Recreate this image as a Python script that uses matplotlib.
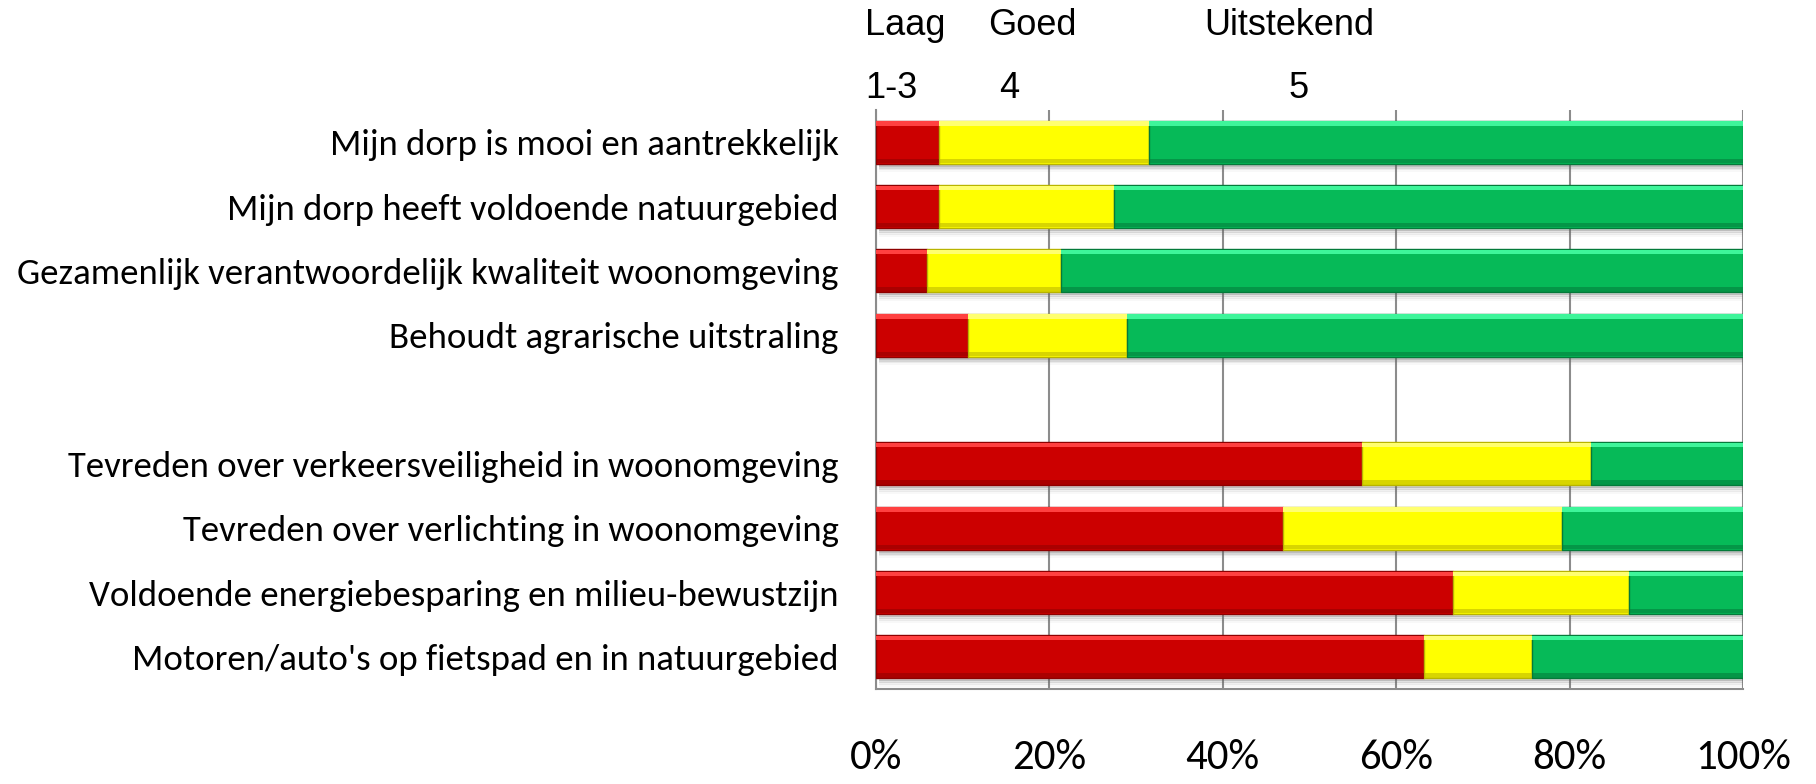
import numpy as np
import matplotlib
matplotlib.use("Agg")
import matplotlib.pyplot as plt
from matplotlib import font_manager as fm
from matplotlib.ticker import FixedLocator

# ---------------- data ----------------
categories = [
    "Mijn dorp is mooi en aantrekkelijk",
    "Mijn dorp heeft voldoende natuurgebied",
    "Gezamenlijk verantwoordelijk kwaliteit woonomgeving",
    "Behoudt agrarische uitstraling",
    "",
    "Tevreden over verkeersveiligheid in woonomgeving",
    "Tevreden over verlichting in woonomgeving",
    "Voldoende energiebesparing en milieu-bewustzijn",
    "Motoren/auto's op fietspad en in natuurgebied",
]
laag = [7.3, 7.3, 5.9, 10.6, np.nan, 56.1, 46.9, 66.5, 63.2]          # 1-3
goed = [24.2, 20.1, 15.4, 18.4, np.nan, 26.4, 32.2, 20.4, 12.5]        # 4
uitstekend = [68.5, 72.6, 78.7, 71.0, np.nan, 17.5, 20.9, 13.1, 24.3]  # 5
xticks = [0, 20, 40, 60, 80, 100]
xticklabels = ["0%", "20%", "40%", "60%", "80%", "100%"]
header_top = ["Laag", "Goed", "Uitstekend"]
header_bottom = ["1-3", "4", "5"]

# ---------------- fonts ----------------
def pick(names):
    for n in names:
        try:
            fm.findfont(fm.FontProperties(family=n), fallback_to_default=False)
            return n
        except Exception:
            pass
    return "DejaVu Sans"

calibri = pick(["Carlito", "Lato", "Open Sans"])
arial = pick(["Liberation Sans", "Arial", "DejaVu Sans"])

W, H = 1816, 784
fig = plt.figure(figsize=(W / 100, H / 100), dpi=100)
fig.patch.set_facecolor("white")

ax_l, ax_r, ax_t, ax_b = 876, 1743, 110, 689
ax = fig.add_axes([ax_l / W, 1 - ax_b / H, (ax_r - ax_l) / W, (ax_b - ax_t) / H])

# fit font sizes to reference text widths
renderer = fig.canvas.get_renderer()
def fit_size(text, family, target_px, base=20):
    t = fig.text(0, 0, text, family=family, fontsize=base)
    w = t.get_window_extent(renderer).width
    t.remove()
    return base * target_px / w

lab_fs = fit_size(categories[0], calibri, 510)
tick_fs = fit_size("100%", calibri, 96)
head_fs = fit_size("Uitstekend", arial, 170)

y = np.arange(len(categories))
laag_a = np.array(laag, dtype=float)
goed_a = np.array(goed, dtype=float)
uit_a = np.array(uitstekend, dtype=float)

h = 0.67
series = [
    (laag_a, np.zeros_like(laag_a), "#CC0000", "#FF4040", "#8E0000"),
    (goed_a, laag_a, "#FFFF00", "#FFFF70", "#B8B400"),
    (uit_a, laag_a + goed_a, "#06BA58", "#3EF59A", "#047A3A"),
]

total = laag_a + goed_a + uit_a
# soft drop shadow
for off, alpha in [(0.02, 0.28), (0.05, 0.18), (0.08, 0.09), (0.11, 0.04)]:
    ax.barh(y + h / 2 + off, total, height=0.05, left=0.3, color="#606060",
            alpha=alpha, linewidth=0, zorder=2)

for vals, left, c, light, dark in series:
    ax.barh(y, vals, left=left, height=h, color=c, edgecolor=dark,
            linewidth=1.0, zorder=3)
    # bevel highlight (top) and shade (bottom)
    t = 0.07
    ax.barh(y - h / 2 + t / 2 + 0.01, vals, left=left, height=t, color=light,
            linewidth=0, zorder=4)
    ax.barh(y + h / 2 - t / 2 - 0.01, vals, left=left, height=t, color=dark,
            alpha=0.55, linewidth=0, zorder=4)

ax.set_xlim(0, 100)
ax.set_ylim(len(categories) - 0.5, -0.5)

ax.xaxis.set_major_locator(FixedLocator(xticks))
ax.set_xticklabels(xticklabels, family=calibri, fontsize=tick_fs)
ax.set_yticks(y)
ax.set_yticklabels(categories, family=calibri, fontsize=lab_fs)
ax.tick_params(axis="x", length=0, pad=36)
ax.tick_params(axis="y", length=0, pad=27)

ax.grid(axis="x", color="#8C8C8C", linewidth=1.5, zorder=1)
ax.set_axisbelow(True)
for s in ["top", "right"]:
    ax.spines[s].set_visible(False)
for s in ["left", "bottom"]:
    ax.spines[s].set_color("#8C8C8C")
    ax.spines[s].set_linewidth(1.5)

# header annotations
for txt, xp in zip(header_top, [865, 988, 1204]):
    fig.text(xp / W, 1 - 35 / H, txt, family=arial, fontsize=head_fs,
             ha="left", va="baseline")
for txt, xp in zip(header_bottom, [865, 999, 1288]):
    fig.text(xp / W, 1 - 98 / H, txt, family=arial, fontsize=head_fs,
             ha="left", va="baseline")

fig.savefig("out.png", dpi=100, facecolor="white")
